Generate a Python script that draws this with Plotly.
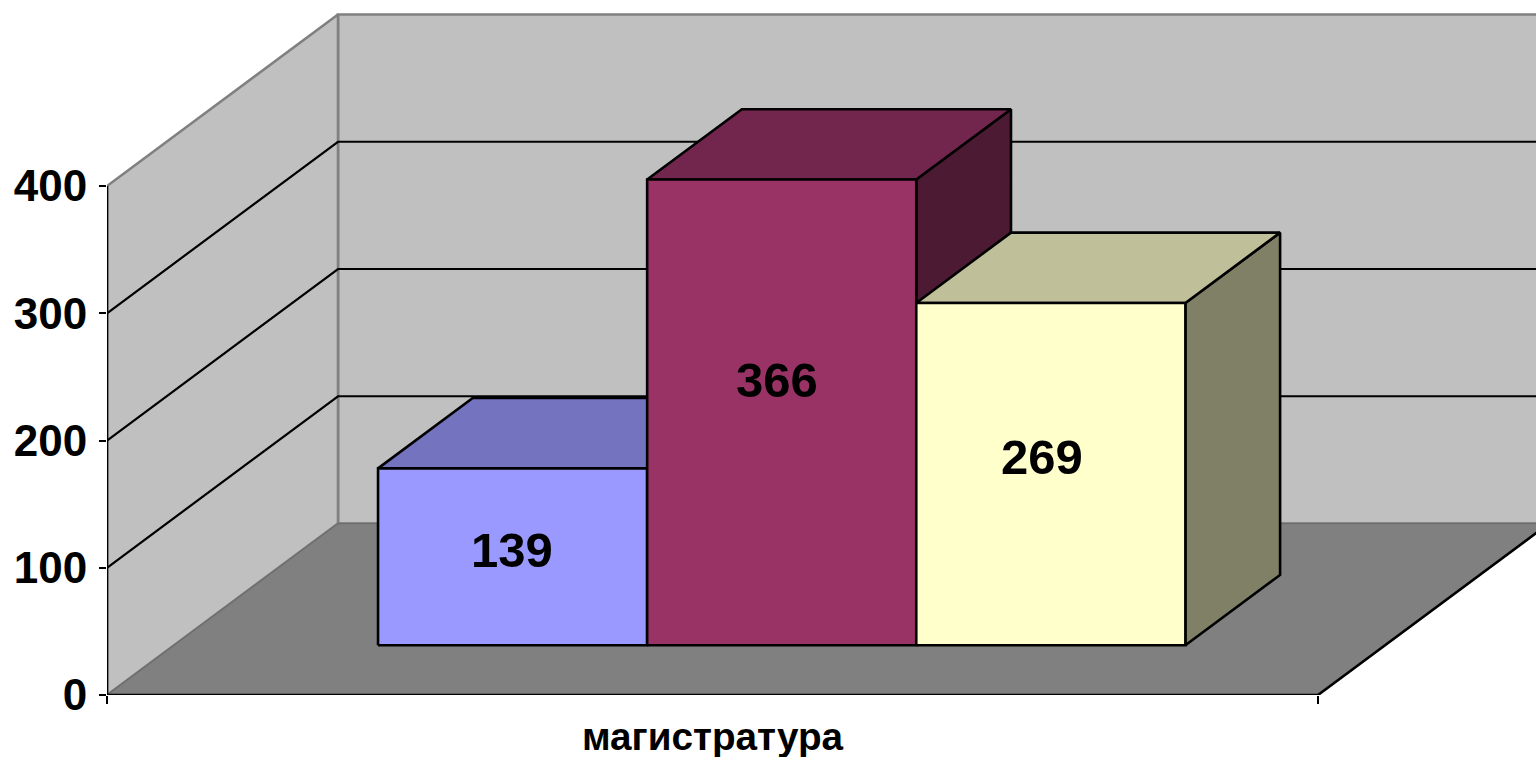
import plotly.graph_objects as go

categories = ["магистратура"]
series_values = [139, 366, 269]
value_ticks = [0, 100, 200, 300, 400]
front_colors = ["#9999FF", "#993366", "#FFFFCC"]
top_colors = ["#7373BF", "#73264D", "#BFBF99"]
side_colors = ["#4D4D80", "#4D1A33", "#808066"]
label_shifts = [(-1, 7), (-5, 32), (-9, 17)]

W, H = 1536, 757
LEFT, BOTTOM = 107, 62
CAT_PX = 1211
VAL_PX = 1.2725
DEPTH_X = 231 / CAT_PX
DEPTH_V = 171.5 / VAL_PX
BAR_W = 2 / 9
GAP = 0.1685
D0, D1 = 0.29, 0.70
TOP_VALUE = max(value_ticks)
FONT = "Liberation Sans"


def pr(x, v, d):
    return x + d * DEPTH_X, v + d * DEPTH_V


def poly(points, fill, line, width=2.6):
    xs, ys = zip(*[pr(*p) for p in points + points[:1]])
    return go.Scatter(x=xs, y=ys, mode="lines", fill="toself", fillcolor=fill,
                      line=dict(color=line, width=width), hoverinfo="skip",
                      showlegend=False, cliponaxis=False)


def seg(points, color, width=2.0):
    xs, ys = zip(*[pr(*p) for p in points])
    return go.Scatter(x=xs, y=ys, mode="lines", line=dict(color=color, width=width),
                      hoverinfo="skip", showlegend=False, cliponaxis=False)


fig = go.Figure()
WALL, FLOOR, EDGE = "#C0C0C0", "#808080", "#808080"
RIGHT = 1.0
# back wall, side wall, floor
fig.add_trace(poly([(0, 0, 1), (RIGHT, 0, 1), (RIGHT, TOP_VALUE, 1), (0, TOP_VALUE, 1)], WALL, EDGE))
fig.add_trace(poly([(0, 0, 0), (0, 0, 1), (0, TOP_VALUE, 1), (0, TOP_VALUE, 0)], WALL, EDGE))
fig.add_trace(poly([(0, 0, 0), (RIGHT, 0, 0), (RIGHT, 0, 1), (0, 0, 1)], FLOOR, "#6E6E6E", 1.5))
# gridlines
for v in value_ticks[1:-1]:
    fig.add_trace(seg([(0, v, 0), (0, v, 1), (RIGHT, v, 1)], "#000000", 2.2))
# axes
fig.add_trace(seg([(0, 0, 0), (0, TOP_VALUE, 0)], "#000000", 2.6))
fig.add_trace(seg([(0, 0, 0), (RIGHT, 0, 0)], "#000000", 2.6))
fig.add_trace(seg([(RIGHT, 0, 0), (RIGHT, 0, 1)], "#000000", 2.6))

# bars
annotations = []
for i, v in enumerate(series_values):
    a = GAP + i * BAR_W
    b = a + BAR_W
    fig.add_trace(poly([(b, 0, D0), (b, 0, D1), (b, v, D1), (b, v, D0)], side_colors[i], "#000000"))
    fig.add_trace(poly([(a, v, D0), (b, v, D0), (b, v, D1), (a, v, D1)], top_colors[i], "#000000"))
    fig.add_trace(poly([(a, 0, D0), (b, 0, D0), (b, v, D0), (a, v, D0)], front_colors[i], "#000000"))
    cx, cy = pr((a + b) / 2, v / 2, D0)
    annotations.append(dict(x=cx, y=cy, text=str(v), showarrow=False,
                            xshift=label_shifts[i][0], yshift=label_shifts[i][1],
                            font=dict(family=FONT, size=49, color="#000000", weight=700)))

fig.update_layout(
    width=W, height=H, autosize=False,
    margin=dict(l=LEFT, r=0, t=0, b=BOTTOM, pad=0, autoexpand=False),
    paper_bgcolor="#FFFFFF", plot_bgcolor="#FFFFFF",
    annotations=annotations, showlegend=False,
    xaxis=dict(range=[0, (W - LEFT) / CAT_PX], showgrid=False, zeroline=False, showline=False,
               automargin=False,
               tickmode="array", tickvals=[0.5], ticktext=categories, ticks="",
               ticklabelstandoff=15,
               tickfont=dict(family=FONT, size=38.7, color="#000000", weight=700),
               minor=dict(tickmode="array", tickvals=[0, 1], ticks="outside", ticklen=8,
                          tickwidth=2, tickcolor="#000000", showgrid=False)),
    yaxis=dict(range=[0, (H - BOTTOM) / VAL_PX], showgrid=False, zeroline=False, showline=False,
               automargin=False,
               tickmode="array", tickvals=value_ticks, ticktext=[str(t) for t in value_ticks],
               ticks="outside", ticklen=7, tickwidth=2, tickcolor="#000000",
               ticklabelstandoff=3,
               tickfont=dict(family=FONT, size=44, color="#000000", weight=700)),
)
fig.write_html("out.html", config={"displayModeBar": False},
               post_script="document.body.style.margin='0';document.body.style.overflow='hidden';")
